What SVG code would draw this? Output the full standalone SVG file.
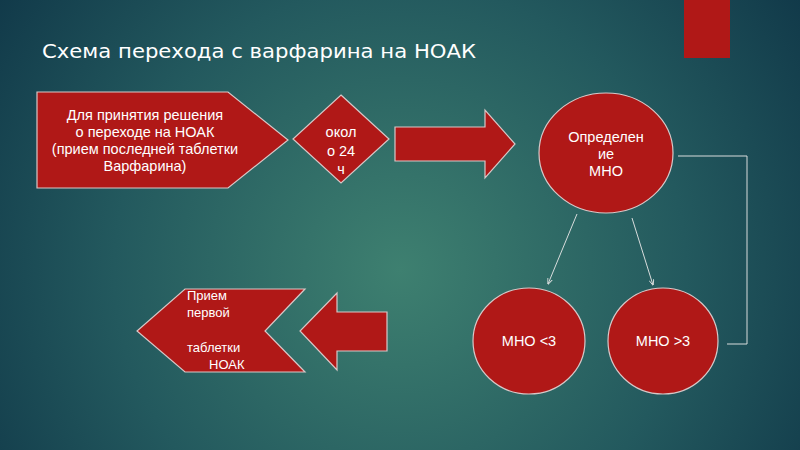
<svg xmlns="http://www.w3.org/2000/svg" width="800" height="450" viewBox="0 0 800 450">
<defs>
<radialGradient id="bg" cx="400" cy="270" r="520" gradientUnits="userSpaceOnUse">
<stop offset="0" stop-color="#3e8070"/>
<stop offset="0.55" stop-color="#23595e"/>
<stop offset="1" stop-color="#0e3446"/>
</radialGradient>
<marker id="ah" viewBox="0 0 10 10" refX="9" refY="5" markerWidth="6" markerHeight="6" orient="auto">
<path d="M0,1 L10,5 L0,9" fill="none" stroke="#d8dcdc" stroke-width="1.5"/>
</marker>
<style>
.shape{fill:#b01817;stroke:#d8c8c8;stroke-width:1.2}
.t{font-family:"Liberation Sans",Arial,sans-serif;font-size:14.5px;fill:#ffffff;text-anchor:middle}
.tl{font-family:"Liberation Sans",Arial,sans-serif;font-size:13px;fill:#ffffff}
.c{fill:none;stroke:#d8dcdc;stroke-width:1}
</style>
</defs>
<rect width="800" height="450" fill="url(#bg)"/>
<rect x="684" y="0" width="46" height="58" fill="#b01817"/>
<text x="42" y="58" font-family="'Comic Sans MS','DejaVu Sans',sans-serif" font-size="20" fill="#ffffff" textLength="434" lengthAdjust="spacingAndGlyphs">Схема перехода с варфарина на НОАК</text>

<g id="connectors">
<line class="c" x1="577" y1="214" x2="548" y2="284" marker-end="url(#ah)"/>
<line class="c" x1="632" y1="218" x2="653" y2="285" marker-end="url(#ah)"/>
<polyline class="c" points="678,156 747,156 747,344 727,344"/>
</g>

<g id="n1">
<polygon class="shape" points="37,92 228,92 288,140 228,188 37,188"/>
<text class="t" x="145" y="120">Для принятия решения</text>
<text class="t" x="145" y="137">о переходе на НОАК</text>
<text class="t" x="145" y="154">(прием последней таблетки</text>
<text class="t" x="145" y="171">Варфарина)</text>
</g>

<g id="n2">
<polygon class="shape" points="341,95 389,139 341,183 293,139"/>
<text class="t" x="341" y="137">окол</text>
<text class="t" x="341" y="156">о 24</text>
<text class="t" x="341" y="174">ч</text>
</g>

<g id="n3">
<polygon class="shape" points="395,127 485,127 485,110 515,144 485,178 485,161 395,161"/>
</g>

<g id="n4">
<ellipse class="shape" cx="606" cy="153" rx="67" ry="60"/>
<text class="t" x="606" y="142">Определен</text>
<text class="t" x="606" y="159">ие</text>
<text class="t" x="606" y="176">МНО</text>
</g>

<g id="n5">
<ellipse class="shape" cx="529" cy="341" rx="56" ry="53"/>
<text class="t" x="529" y="346">МНО &lt;3</text>
</g>

<g id="n6">
<ellipse class="shape" cx="663" cy="341" rx="55" ry="53"/>
<text class="t" x="663" y="346">МНО &gt;3</text>
</g>

<g id="n7">
<polygon class="shape" points="387,312 337,312 337,293 300,331 337,370 337,351 387,351"/>
</g>

<g id="n8">
<polygon class="shape" points="185,289 305,289 265,331 305,372 185,372 137,331"/>
<text class="tl" x="187" y="300">Прием</text>
<text class="tl" x="187" y="317">первой</text>
<text class="tl" x="187" y="352">таблетки</text>
<text class="tl" x="209" y="369">НОАК</text>
</g>
</svg>
